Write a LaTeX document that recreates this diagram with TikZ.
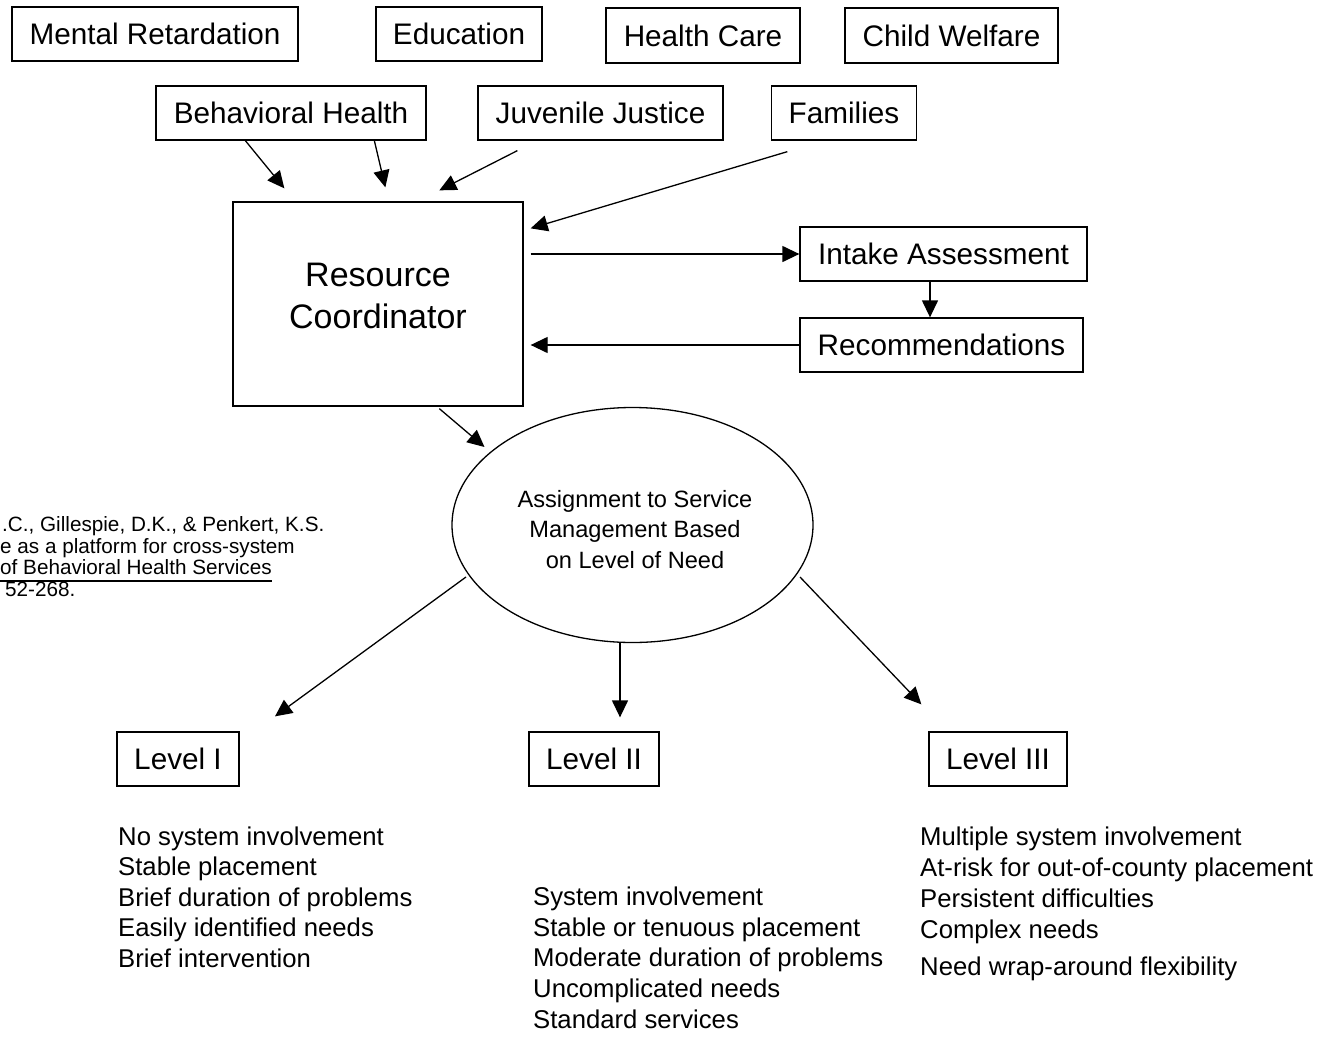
\documentclass[tikz,border=0pt]{standalone}
\usepackage{fontspec}
\setmainfont{Liberation Sans}
\usetikzlibrary{arrows.meta,calc,shapes.geometric}
\begin{document}
\begin{tikzpicture}[x=1pt,y=-1pt,
  box/.style={draw, line width=1.3pt, inner sep=0pt, minimum height=54pt, font=\fontsize{29.7}{35}\selectfont},
  arr/.style={line width=1.3pt, -{Triangle[length=17pt,width=16pt]}},
  item/.style={anchor=west, inner sep=0pt, text height=18.4pt, text depth=0pt, font=\fontsize{25.7}{30}\selectfont},
  citeline/.style={anchor=west, inner sep=0pt, text height=14.8pt, text depth=0pt, font=\fontsize{20.7}{22}\selectfont}]
\useasboundingbox (0,0) rectangle (1320,1060);

% top row
\node[box, minimum width=286pt] (mr) at (155,34) {Mental Retardation};
\node[box, minimum width=166pt] (ed) at (459,34) {Education};
\node[box, minimum width=194pt, minimum height=55pt] (hc) at (703,35.5) {Health Care};
\node[box, minimum width=213pt, minimum height=55pt] (cw) at (951.5,35.5) {Child Welfare};
% second row
\node[box, minimum width=270pt] (bh) at (291,113) {Behavioral Health};
\node[box, minimum width=245pt] (jj) at (600.5,113) {Juvenile Justice};
\node[box, minimum width=145pt] (fa) at (844,113) {Families};

% resource coordinator
\node[draw, line width=1.3pt, inner sep=0pt, minimum width=290pt, minimum height=204pt] (rc) at (378,304) {};
\node[inner sep=0pt, align=center, font=\fontsize{34}{42}\selectfont] (rct) at (378,296) {Resource\\Coordinator};

% intake / recommendations
\node[box, minimum width=287pt] (ia) at (943.5,254) {Intake Assessment};
\node[box, minimum width=283pt] (re) at (941.5,345) {Recommendations};

% ellipse
\node[draw, ellipse, line width=1.3pt, inner sep=0pt, minimum width=361pt, minimum height=235pt] (ell) at (632.5,525) {};
\node[inner sep=0pt, align=center, font=\fontsize{23.6}{30.5}\selectfont] (ellt) at (635,529.5) {Assignment to Service\\Management Based\\on Level of Need};

% levels
\node[box, minimum width=122pt] (l1) at (178,759) {Level I};
\node[box, minimum width=130pt] (l2) at (594,759) {Level II};
\node[box, minimum width=138pt] (l3) at (998,759) {Level III};

% arrows
\draw[arr] ($(bh.south west)+(90,0)$) -- ($(rc.north west)+(52,-13)$);
\draw[arr] ($(bh.south west)+(219,0)$) -- ($(rc.north west)+(153,-14)$);
\draw[arr] ($(jj.south west)+(40,10)$) -- ($(rc.north west)+(207,-11)$);
\draw[arr] ($(fa.south west)+(16.5,11)$) -- ($(rc.north east)+(7,27)$);
\draw[arr] ($(rc.east |- ia.west)+(7,0)$) -- (ia.west);
\draw[arr] ($(ia.south)+(-13.5,0)$) -- ($(re.north)+(-11.5,0)$);
\draw[arr] (re.west) -- ($(rc.east |- re.west)+(7,0)$);
\draw[arr] ($(rc.south west)+(207,2)$) -- ($(ell.center)+(-148,-78)$);
\draw[arr] ($(ell.center)+(-166.5,52)$) -- ($(l1.north)+(97,-15)$);
\draw[arr] ($(ell.south)+(-12.5,0)$) -- ($(l2.north)+(26,-14)$);
\draw[arr] ($(ell.center)+(167.5,52)$) -- ($(l3.north west)+(-7,-27)$);

% citation
\node[citeline] (c1) at (2,524) {.C., Gillespie, D.K., \& Penkert, K.S.};
\node[citeline] (c2) at (0,546) {e as a platform for cross-system};
\node[citeline] (c3) at (0,567) {of Behavioral Health Services};
\node[citeline] (c4) at (5,589) {52-268.};
\draw[line width=2pt] ($(c3.south west)+(0,6)$) -- ($(c3.south east)+(0,6)$);

% level I list
\node[item] (a1) at (118,836) {No system involvement};
\node[item] (a2) at (118,866.5) {Stable placement};
\node[item] (a3) at (118,897) {Brief duration of problems};
\node[item] (a4) at (118,927.5) {Easily identified needs};
\node[item] (a5) at (118,958) {Brief intervention};

% level II list
\node[item] (b1) at (533,896) {System involvement};
\node[item] (b2) at (533,927) {Stable or tenuous placement};
\node[item] (b3) at (533,957.5) {Moderate duration of problems};
\node[item] (b4) at (533,988) {Uncomplicated needs};
\node[item] (b5) at (533,1019) {Standard services};

% level III list
\node[item] (d1) at (920,836) {Multiple system involvement};
\node[item] (d2) at (920,867) {At-risk for out-of-county placement};
\node[item] (d3) at (920,898) {Persistent difficulties};
\node[item] (d4) at (920,929) {Complex needs};
\node[item] (d5) at (920,966) {Need wrap-around flexibility};
\end{tikzpicture}
\end{document}
